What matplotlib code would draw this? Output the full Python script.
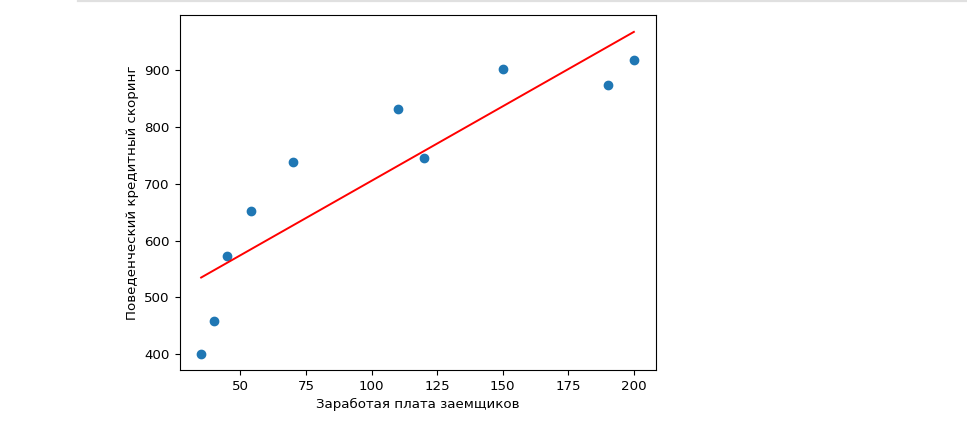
import numpy as np
import matplotlib
matplotlib.use("Agg")
import matplotlib.pyplot as plt
from matplotlib.lines import Line2D

# зарплата заемщиков и скоринг
salary = [35, 40, 45, 54, 70, 110, 120, 150, 190, 200]
score = [400, 459, 573, 652, 738, 831, 745, 901, 873, 918]

# линия регрессии: значения на концах
fit_x = [35, 200]
fit_y = [535, 967]

W, H = 967, 437
fig = plt.figure(figsize=(W / 100, H / 100), dpi=100)

# серая полоса сверху (граница ячейки ноутбука)
fig.add_artist(Line2D([78 / W, 1], [1 - 0.8 / H, 1 - 0.8 / H],
                      color='#e0e0e0', linewidth=1.6, transform=fig.transFigure))

ax = fig.add_axes([179.5 / W, 1 - 370 / H, 476 / W, 355 / H])
ax.scatter(salary, score, s=36, color='#1f77b4', zorder=2)
ax.plot(fit_x, fit_y, color='red', linewidth=1.4)

ax.set_xticks([50, 75, 100, 125, 150, 175, 200])
ax.set_yticks([400, 500, 600, 700, 800, 900])
ax.set_xlim(26.75, 208.25)
ax.set_ylim(372.4, 996.7)
ax.tick_params(labelsize=9.6)
ax.set_xlabel("Заработая плата заемщиков", fontsize=9.6)
ax.set_ylabel("Поведенческий кредитный скоринг", fontsize=9.6)

fig.savefig("out.png", dpi=100)
